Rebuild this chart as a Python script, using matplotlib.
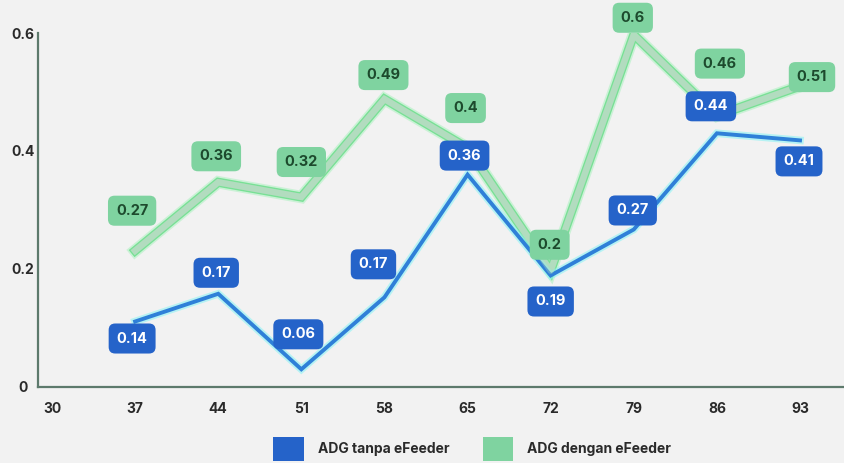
import matplotlib
matplotlib.use("Agg")
import matplotlib.pyplot as plt
import matplotlib.patheffects as pe
from matplotlib.patches import Patch

plt.rcParams['font.family'] = ['Inter', 'DejaVu Sans']

days = [30, 37, 44, 51, 58, 65, 72, 79, 86, 93]
x_pts = [37, 44, 51, 58, 65, 72, 79, 86, 93]
tanpa = [0.111, 0.158, 0.030, 0.152, 0.36, 0.189, 0.267, 0.43, 0.418]
dengan = [0.231, 0.347, 0.322, 0.488, 0.405, 0.197, 0.597, 0.46, 0.51]
tanpa_labels = ["0.14", "0.17", "0.06", "0.17", "0.36", "0.19", "0.27", "0.44", "0.41"]
dengan_labels = ["0.27", "0.36", "0.32", "0.49", "0.4", "0.2", "0.6", "0.46", "0.51"]
yticks = [0, 0.2, 0.4, 0.6]
ytick_labels = ["0", "0.2", "0.4", "0.6"]
series_names = ["ADG tanpa eFeeder", "ADG dengan eFeeder"]

# label offsets in pixels (dx, dy up)
tanpa_off = [(-3, -17), (-2, 21), (-3, 35), (-11, 33), (-3, 19), (0, -26), (-1, 19), (-6, 27), (-1, -21)]
dengan_off = [(-3, 40), (-2, 26), (0, 35), (-1, 24), (-2, 40), (-1, 26), (-1, 17), (3, 52), (12, 9)]

BG = "#f2f2f2"
BLUE = "#2563c9"
BLUE_LINE = "#2f80d8"
GREEN = "#7fd3a0"
GREEN_LINE = "#b2dcbf"

fig = plt.figure(figsize=(8.45, 4.63), dpi=100, facecolor=BG)
ax = fig.add_axes([38/845, 76/463, 1 - 38/845, (387-33)/463])
ax.set_facecolor(BG)

ax.set_xlim(28.82, 96.79)
ax.set_ylim(0, 0.6)

# green line
ax.plot(x_pts, dengan, color=GREEN_LINE, lw=4.6, solid_joinstyle='miter', zorder=2,
        path_effects=[pe.Stroke(linewidth=9, foreground="#9cf0b4", alpha=0.45),
                      pe.Stroke(linewidth=6.6, foreground="#6fe08e", alpha=0.9), pe.Normal()])
# blue line
ax.plot(x_pts, tanpa, color=BLUE_LINE, lw=2.8, solid_joinstyle='miter', zorder=3,
        path_effects=[pe.Stroke(linewidth=5.5, foreground="#8ff3f5", alpha=0.6), pe.Normal()])
# faint green over blue for translucency
ax.plot(x_pts, dengan, color=GREEN_LINE, lw=4.6, alpha=0.35, zorder=4)

def add_labels(xs, ys, labels, offs, fc, tc, z):
    for x, y, lab, (dx, dy) in zip(xs, ys, labels, offs):
        ax.annotate(lab, (x, y), xytext=(dx * 0.72, dy * 0.72), textcoords='offset points',
                    ha='center', va='center', fontsize=10.5, fontweight='bold', color=tc,
                    zorder=z,
                    bbox=dict(boxstyle="round,pad=0.55,rounding_size=0.45", fc=fc, ec='none'))

add_labels(x_pts, dengan, dengan_labels, dengan_off, GREEN, "#1d4a2d", 5)
add_labels(x_pts, tanpa, tanpa_labels, tanpa_off, BLUE, "white", 6)

ax.set_xticks(days)
ax.set_xticklabels([str(d) for d in days])
ax.set_yticks(yticks)
ax.set_yticklabels(ytick_labels, ha='center')
ax.tick_params(axis='both', length=0, labelsize=10, colors="#2a2a2a")
ax.tick_params(axis='x', pad=11)
ax.tick_params(axis='y', pad=11)
for lab in ax.get_xticklabels() + ax.get_yticklabels():
    lab.set_fontweight('bold')

for s in ['top', 'right']:
    ax.spines[s].set_visible(False)
for s in ['left', 'bottom']:
    ax.spines[s].set_color("#5d7a6c")
    ax.spines[s].set_linewidth(1.6)

handles = [Patch(facecolor=BLUE, edgecolor='none', label=series_names[0]),
           Patch(facecolor=GREEN, edgecolor='none', label=series_names[1])]
leg = fig.legend(handles=handles, loc='center', bbox_to_anchor=(0.559, 0.03), ncol=2,
                 frameon=False, handlelength=2.2, handleheight=2.2, handletextpad=1.0,
                 columnspacing=2.4, prop={'weight': 'bold', 'size': 10})
for t in leg.get_texts():
    t.set_color("#2a2a2a")

fig.savefig("out.png", dpi=100, facecolor=BG)
